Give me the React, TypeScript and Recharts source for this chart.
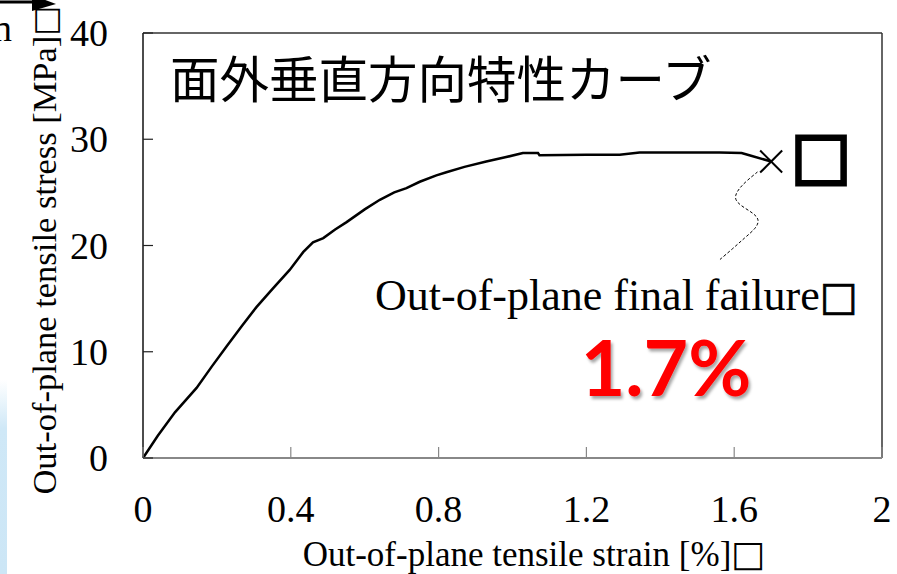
import React from 'react';
import {
  ComposedChart,
  Line,
  Scatter,
  XAxis,
  YAxis,
  ReferenceLine,
} from 'recharts';

// Measured tensile curve (strain in %, stress in MPa)
const strain = [
  0, 0.04, 0.0865, 0.145, 0.186, 0.226, 0.267, 0.307, 0.35, 0.397, 0.434, 0.46,
  0.488, 0.52, 0.551, 0.6, 0.641, 0.68, 0.713, 0.749, 0.794, 0.821, 0.87, 0.929,
  0.98, 1.028, 1.069, 1.073, 1.2, 1.29, 1.344, 1.452, 1.56, 1.62, 1.641, 1.7,
];
const stress = [
  0, 2.1, 4.3, 6.6, 8.6, 10.5, 12.4, 14.2, 15.9, 17.7, 19.4, 20.3,
  20.7, 21.5, 22.2, 23.4, 24.3, 25.0, 25.4, 26.0, 26.6, 26.9, 27.4, 27.9,
  28.3, 28.7, 28.7, 28.5, 28.55, 28.55, 28.75, 28.75, 28.75, 28.7, 28.5, 27.9,
];

// Final failure point
const failureStrain = 1.7;
const failureStress = 27.9;

// Dashed pointer from the failure mark down to its caption
const leaderStrain = [
  1.663, 1.636, 1.614, 1.601, 1.606, 1.628, 1.655, 1.668, 1.66, 1.628, 1.595, 1.56,
];
const leaderStress = [
  26.92, 26.16, 25.41, 24.66, 24.09, 23.53, 22.96, 22.4, 21.65, 20.71, 19.67, 18.64,
];

const xTicks = [0, 0.4, 0.8, 1.2, 1.6, 2];
const yTicks = [0, 10, 20, 30, 40];

const curveData = strain.map((x, i) => ({ x, y: stress[i] }));
const leaderData = leaderStrain.map((x, i) => ({ x, y: leaderStress[i] }));
const failureData = [{ x: failureStrain, y: failureStress }];

const SERIF = '"Liberation Serif", "Times New Roman", serif';
const BOX_FONT = '"DejaVu Sans", sans-serif';

const YTick = (props: any) => {
  const { x, y, payload } = props;
  return (
    <g>
      <line x1={x} y1={y} x2={x + 10} y2={y} stroke="#222" strokeWidth={1.2} />
      <text x={x - 35} y={y + 13} textAnchor="end" fontFamily={SERIF} fontSize={38} fill="#000">
        {payload.value}
      </text>
    </g>
  );
};

const XTick = (props: any) => {
  const { x, y, payload } = props;
  return (
    <g>
      <line x1={x} y1={y} x2={x} y2={y - 11} stroke="#888" strokeWidth={1.2} />
      <text x={x} y={y + 64} textAnchor="middle" fontFamily={SERIF} fontSize={38} fill="#000">
        {payload.value}
      </text>
    </g>
  );
};

const CrossMark = (props: any) => {
  const { cx, cy } = props;
  const r = 11;
  return (
    <g stroke="#000" strokeWidth={2}>
      <line x1={cx - r} y1={cy - r} x2={cx + r} y2={cy + r} />
      <line x1={cx - r} y1={cy + r} x2={cx + r} y2={cy - r} />
    </g>
  );
};

export default function App() {
  return (
    <div
      style={{
        position: 'absolute',
        left: 0,
        top: 0,
        width: 897,
        height: 574,
        background: '#fff',
        overflow: 'hidden',
      }}
    >
      {/* pale blue edge of the slide */}
      <div
        style={{
          position: 'absolute',
          left: 0,
          top: 380,
          width: 7,
          height: 194,
          background: 'linear-gradient(to bottom, rgba(205,232,247,0), #cfe8f7 25%, #cce6f6)',
        }}
      />
      <ComposedChart
        width={897}
        height={574}
        margin={{ top: 33, right: 15, left: 0, bottom: 0 }}
        style={{ position: 'absolute', left: 0, top: 0 }}
      >
        <XAxis
          type="number"
          dataKey="x"
          domain={[0, 2]}
          ticks={xTicks}
          height={116}
          tickSize={0}
          tickMargin={0}
          tickLine={false}
          axisLine={{ stroke: '#888', strokeWidth: 2 }}
          tick={<XTick />}
          interval={0}
        />
        <YAxis
          type="number"
          dataKey="y"
          domain={[0, 40]}
          ticks={yTicks}
          width={143}
          tickSize={0}
          tickMargin={0}
          tickLine={false}
          axisLine={{ stroke: '#111', strokeWidth: 1.5 }}
          tick={<YTick />}
          interval={0}
        />
        <ReferenceLine y={40} stroke="#666" strokeWidth={2} />
        <ReferenceLine x={2} stroke="#333" strokeWidth={1.5} />
        <Line
          data={curveData}
          dataKey="y"
          type="linear"
          stroke="#000"
          strokeWidth={2.5}
          dot={false}
          isAnimationActive={false}
        />
        <Line
          data={leaderData}
          dataKey="y"
          type="basis"
          stroke="#000"
          strokeWidth={1}
          strokeDasharray="3 2"
          dot={false}
          isAnimationActive={false}
        />
        <Scatter data={failureData} dataKey="y" shape={<CrossMark />} isAnimationActive={false} />
      </ComposedChart>

      <svg
        width={897}
        height={574}
        style={{ position: 'absolute', left: 0, top: 0, pointerEvents: 'none' }}
      >
        <defs>
          <filter id="shadow" x="-10%" y="-10%" width="130%" height="140%">
            <feDropShadow dx="2" dy="3" stdDeviation="1.5" floodColor="#000" floodOpacity="0.35" />
          </filter>
        </defs>

        {/* arrow and clipped word at the upper-left corner */}
        <line x1={0} y1={2} x2={36} y2={2} stroke="#000" strokeWidth={3} />
        <polygon points="32,-5 56,4 32,11" fill="#000" />
        <text x={12} y={41} textAnchor="end" fontFamily={SERIF} fontSize={38} fill="#000">
          n
        </text>

        <text
          transform="translate(56,250) rotate(-90)"
          textAnchor="middle"
          fontFamily={SERIF}
          fontSize={34.5}
          fill="#000"
        >
          Out-of-plane tensile stress [MPa]
          <tspan fontFamily={BOX_FONT} fontSize={32}>□</tspan>
        </text>
        <text x={534} y={566} textAnchor="middle" fontFamily={SERIF} fontSize={35} fill="#000">
          Out-of-plane tensile strain [%]
          <tspan fontFamily={BOX_FONT} fontSize={36}>□</tspan>
        </text>

        <text
          x={170}
          y={98}
          fontFamily='"Noto Sans CJK JP", sans-serif'
          fontSize={49.5}
          fill="#000"
        >
          面外垂直方向特性カーブ
        </text>

        <text x={375} y={310} fontFamily={SERIF} fontSize={44} fill="#000">
          Out-of-plane final failure
          <tspan fontFamily={BOX_FONT} fontSize={40} stroke="#000" strokeWidth={0.8}>□</tspan>
        </text>

        <text
          x={666}
          y={396}
          textAnchor="middle"
          fontFamily="Lato, sans-serif"
          fontWeight={700}
          fontSize={77}
          fill="#ff0000"
          filter="url(#shadow)"
        >
          {`${failureStrain}%`}
        </text>

        <text
          x={821}
          y={177}
          textAnchor="middle"
          fontFamily={BOX_FONT}
          fontSize={64}
          fill="#000"
          stroke="#000"
          strokeWidth={3}
        >
          □
        </text>
      </svg>
    </div>
  );
}
